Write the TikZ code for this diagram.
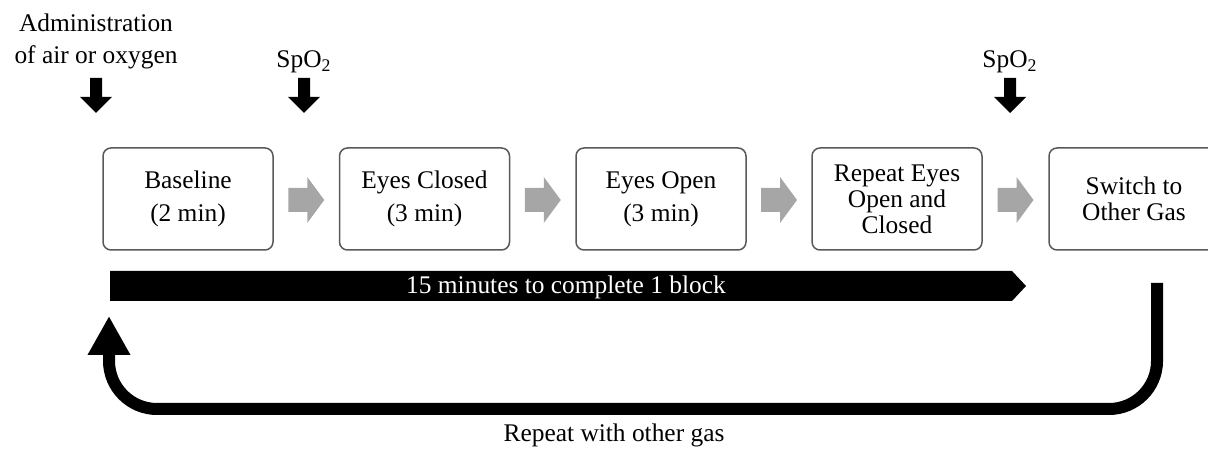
\documentclass[tikz,border=0pt]{standalone}
\usepackage{fontspec}
\setmainfont{Liberation Serif}
\usetikzlibrary{arrows.meta, calc}

\begin{document}
\begin{tikzpicture}[
    x=0.5pt, y=-0.5pt,
    font=\fontsize{12.7}{13}\selectfont,
    stepbox/.style  ={draw=black!65, line width=0.75pt, rounded corners=4pt, fill=white,
                      minimum width=85pt, minimum height=51pt, inner sep=0pt, align=center},
    grayhead/.style ={fill=black!35},
    markhead/.style ={fill=black},
    retarrow/.style ={-{Triangle[width=20pt,length=19.5pt]}, line width=6pt, rounded corners=24pt},
    toplabel/.style ={align=center, inner sep=0pt}
]

\clip (0,0) rectangle (1208,453);

% ---------- protocol steps ----------
\node[stepbox] (base)   at (188,199)   {Baseline\\[3.5pt](2 min)};
\node[stepbox] (closed) at (424.5,199) {Eyes Closed\\[3.5pt](3 min)};
\node[stepbox] (open)   at (661,199)   {Eyes Open\\[3.5pt](3 min)};
\node[stepbox] (again)  at (897,199)   {Repeat Eyes\\Open and\\Closed};
\node[stepbox] (switch) at (1134,199)  {Switch to\\Other Gas};

% ---------- gray step arrows, centred in each gap ----------
\foreach \a/\b in {base/closed, closed/open, open/again, again/switch}
  \fill[grayhead] ($(\a.east)!0.5!(\b.west)$) ++(-18,-11) -- ++(19,0) -- ++(0,-11)
      -- ++(17,23) -- ++(-17,23) -- ++(0,-11) -- ++(-19,0) -- cycle;

% ---------- labels above ----------
\node[toplabel] (admin) at (96,41) {Administration\\[3pt]of air or oxygen};
\node[toplabel, anchor=base] (spoa) at (304,68)  {SpO\textsubscript{2}};
\node[toplabel, anchor=base] (spob) at (1010,68) {SpO\textsubscript{2}};

% ---------- black marker arrows ----------
\foreach \x in {96,304,1010}
  \fill[markhead] (\x-6,78) -- (\x+6,78) -- (\x+6,97) -- (\x+16,97)
      -- (\x,113) -- (\x-16,97) -- (\x-6,97) -- cycle;

% ---------- block duration bar ----------
\fill (110,271) -- (1012,271) -- (1026,286) -- (1012,301) -- (110,301) -- cycle;
\node[white, anchor=base] (blocktxt) at (566,294) {15 minutes to complete 1 block};

% ---------- return loop ----------
\coordinate (rettop) at (1157,283);
\coordinate (retend) at (109,316);
\coordinate (retlow) at (0,409);
\draw[retarrow] (rettop) -- (rettop |- retlow) -- (retend |- retlow) -- (retend);
\node[anchor=base] (repeattxt) at (614,442) {Repeat with other gas};

\end{tikzpicture}
\end{document}
